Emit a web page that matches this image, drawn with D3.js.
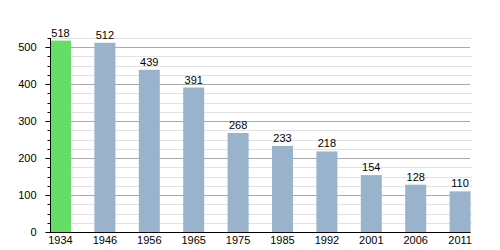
<!DOCTYPE html>
<html><head><meta charset="utf-8">
<script src="https://cdn.jsdelivr.net/npm/d3@7"></script>
<style>body{margin:0;background:#fff}svg{display:block;font-family:"Liberation Sans",Arial,sans-serif}</style>
</head><body><svg id="c" width="500" height="250"></svg>
<script>
const years = ["1934","1946","1956","1965","1975","1985","1992","2001","2006","2011"];
const population = [518,512,439,391,268,233,218,154,128,110];
const highlight = ["1934"];
const majorTicks = [0,100,200,300,400,500];

const svg = d3.select("#c");
const x = d3.scaleBand().domain(years).range([50,470.6]).paddingInner(0.527).paddingOuter(0);
const y = d3.scaleLinear().domain([0,525]).range([232,38]);

const minor = d3.range(0,526,25);
svg.append("g").selectAll("line").data(minor.filter(v=>v%100!==0)).join("line")
  .attr("x1",50).attr("x2",472).attr("y1",d=>Math.round(y(d))+0.5).attr("y2",d=>Math.round(y(d))+0.5)
  .attr("stroke","#e2e2e2").attr("stroke-width",1);
svg.append("g").selectAll("line").data(majorTicks.filter(v=>v>0)).join("line")
  .attr("x1",50).attr("x2",470).attr("y1",d=>Math.round(y(d))+0.5).attr("y2",d=>Math.round(y(d))+0.5)
  .attr("stroke","#aaaaaa").attr("stroke-width",1);

svg.append("g").selectAll("rect").data(years).join("rect")
  .attr("x",d=>x(d)).attr("width",x.bandwidth())
  .attr("y",(d,i)=>y(population[i])).attr("height",(d,i)=>y(0)-y(population[i]))
  .attr("fill",d=>highlight.includes(d)?"#66dd66":"#9ab3cd");

svg.append("g").selectAll("text").data(years).join("text")
  .attr("x",d=>x(d)+x.bandwidth()/2).attr("y",(d,i)=>y(population[i])-4)
  .attr("text-anchor","middle").attr("font-size",11).attr("fill","#000")
  .text((d,i)=>population[i]);

// y axis
const ya = svg.append("g").attr("transform","translate(50.5,0)");
ya.append("line").attr("x1",0).attr("x2",0).attr("y1",38).attr("y2",232).attr("stroke","#000");
ya.selectAll("line.mi").data(minor.filter(v=>v%100!==0)).join("line").attr("class","mi")
  .attr("x1",-3).attr("x2",0).attr("y1",d=>Math.round(y(d))+0.5).attr("y2",d=>Math.round(y(d))+0.5).attr("stroke","#000");
ya.selectAll("line.ma").data(majorTicks).join("line").attr("class","ma")
  .attr("x1",-5).attr("x2",0).attr("y1",d=>Math.round(y(d))+0.5).attr("y2",d=>Math.round(y(d))+0.5).attr("stroke","#000");
ya.selectAll("text").data(majorTicks).join("text")
  .attr("x",-14).attr("y",d=>y(d)).attr("dy","0.35em").attr("text-anchor","end")
  .attr("font-size",11).text(d=>d);

// x axis
svg.append("line").attr("x1",50).attr("x2",470.6).attr("y1",232.5).attr("y2",232.5).attr("stroke","#000");
svg.append("g").selectAll("text").data(years).join("text")
  .attr("x",d=>x(d)+x.bandwidth()/2).attr("y",244).attr("text-anchor","middle")
  .attr("font-size",11).text(d=>d);
</script></body></html>
